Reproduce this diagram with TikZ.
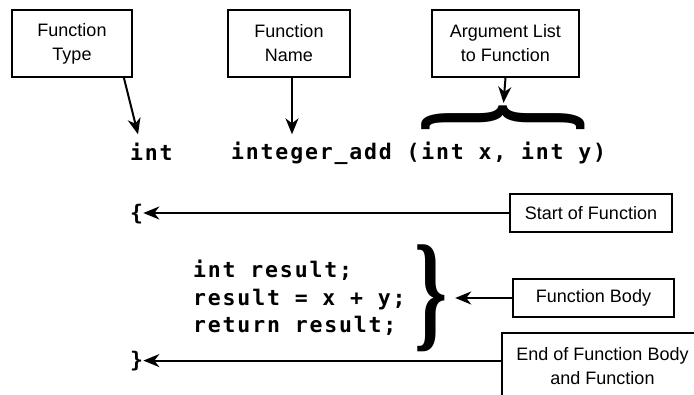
\documentclass[tikz,border=0pt]{standalone}
\usepackage{fontspec}
\setmainfont{Liberation Sans}
\newfontfamily\codefont{DejaVu Sans Mono}[LetterSpace=8.5]
\newfontfamily\bracefont{Liberation Serif}
\usetikzlibrary{arrows.meta}

\tikzset{
  labelbox/.style={draw, line width=1.8pt, align=center, inner sep=0pt,
    font=\fontsize{18}{24}\selectfont},
  code/.style={inner sep=0pt, anchor=base west,
    font=\codefont\bfseries\fontsize{21.5}{27.5}\selectfont},
  pointer/.style={line width=2pt, -{Stealth[length=16pt,width=13pt,inset=5pt]}},
}

\begin{document}
\begin{tikzpicture}[x=1pt,y=-1pt]
\clip (0,0) rectangle (694,394);

%% label boxes
\node[labelbox, minimum width=120pt, minimum height=67pt] (ftype)  at (72,43.5)    {Function\\Type};
\node[labelbox, minimum width=122pt, minimum height=67pt] (fname)  at (289,43.5)   {Function\\Name};
\node[labelbox, minimum width=147pt, minimum height=67pt] (arglist) at (505.5,43.5) {Argument List\\to Function};
\node[labelbox, minimum width=162pt, minimum height=38pt] (fstart) at (591,213)    {Start of Function};
\node[labelbox, minimum width=161pt, minimum height=38pt] (fbody)  at (593.5,298)  {Function Body};
\node[labelbox, minimum width=201pt, minimum height=66pt] (fend)   at (602.5,366)  {End of Function Body\\and Function};

%% code
\node[code] (ftypecode) at (130,160) {int};
\node[code] (fnamecode) at (231,159) {integer\_add (int x, int y)};
\node[code] (lcurly)    at (130,220) {\{};
\node[code] (bodya)     at (193,277) {int result;};
\node[code] (bodyb)     at (193,305) {result = x + y;};
\node[code] (bodyc)     at (193,332) {return result;};
\node[code] (rcurly)    at (130,367) {\}};

%% braces
\node[inner sep=0pt] (argbrace)  at (503.5,117.5) {\rotatebox{90}{\resizebox*{29pt}{163pt}{\bracefont\bfseries\}}}};
\node[inner sep=0pt] (bodybrace) at (431.5,298.5) {\resizebox*{33pt}{107pt}{\bracefont\bfseries\}}};

%% pointers
\draw[pointer] ([xshift=-9pt]ftype.south east) -- ([xshift=8pt,yshift=8pt]ftypecode.north west);
\draw[pointer, shorten >=7pt] ([xshift=3pt]fname.south) -- ([xshift=3pt]fname.south |- fnamecode.north);
\draw[pointer] (arglist.south) -- (argbrace.north);
\draw[pointer] (fstart.west) -- (fstart.west -| lcurly.east);
\draw[pointer, shorten >=7pt] (fbody.west) -- (fbody.west -| bodybrace.east);
\draw[pointer] (fend.west |- rcurly.east) -- (rcurly.east);
\end{tikzpicture}
\end{document}
